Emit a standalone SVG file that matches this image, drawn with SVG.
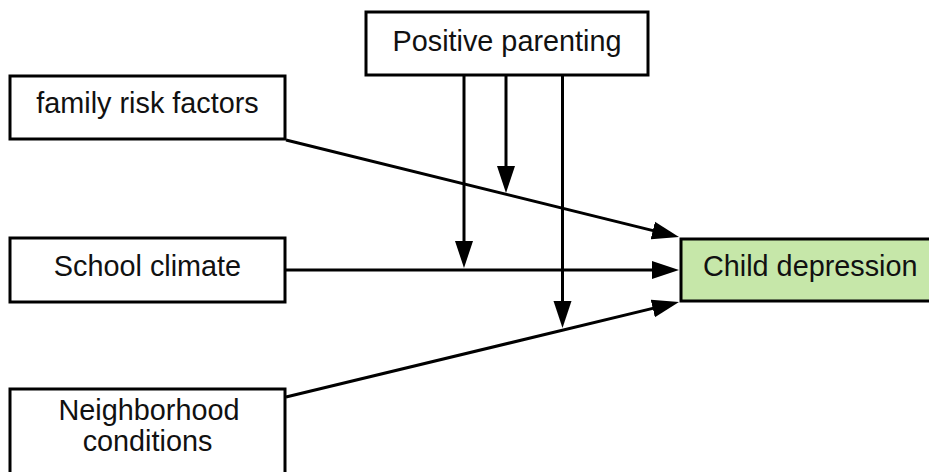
<svg xmlns="http://www.w3.org/2000/svg" width="929" height="472" viewBox="0 0 929 472">
  <style>
    .box { fill: #ffffff; stroke: #000000; stroke-width: 3; }
    .out { fill: #c6e7a9; stroke: #000000; stroke-width: 3; }
    .lbl { font-family: "Liberation Sans", Arial, sans-serif; font-size: 28.8px; fill: #111111; }
    .edge { fill: none; stroke: #000000; stroke-width: 3; }
  </style>
  <defs>
    <marker id="arr" markerUnits="userSpaceOnUse" markerWidth="27" markerHeight="20" refX="17" refY="10" orient="auto">
      <path d="M0,1 L27,10 L0,19 Z" fill="#000000"/>
    </marker>
  </defs>
  <rect width="929" height="472" fill="#ffffff"/>

  <g id="connectors">
    <path class="edge" d="M286,140 L669.3,234.6" marker-end="url(#arr)"/>
    <path class="edge" d="M286,270 L669,270" marker-end="url(#arr)"/>
    <path class="edge" d="M286,397 L669.3,304.4" marker-end="url(#arr)"/>
    <path class="edge" d="M464,76 L464,258" marker-end="url(#arr)"/>
    <path class="edge" d="M506,76 L506,183" marker-end="url(#arr)"/>
    <path class="edge" d="M562.5,76 L562.5,318" marker-end="url(#arr)"/>
  </g>

  <g id="positive-parenting">
    <rect class="box" x="366" y="12" width="282" height="63"/>
    <text class="lbl" x="507" y="51" text-anchor="middle">Positive parenting</text>
  </g>
  <g id="family-risk-factors">
    <rect class="box" x="10" y="76" width="275" height="63"/>
    <text class="lbl" x="147.5" y="113" text-anchor="middle">family risk factors</text>
  </g>
  <g id="school-climate">
    <rect class="box" x="10" y="238" width="275" height="64"/>
    <text class="lbl" x="147.5" y="276" text-anchor="middle">School climate</text>
  </g>
  <g id="neighborhood-conditions">
    <rect class="box" x="10" y="389" width="275" height="100"/>
    <text class="lbl" x="149" y="420" text-anchor="middle">Neighborhood</text>
    <text class="lbl" x="147.5" y="451" text-anchor="middle">conditions</text>
  </g>
  <g id="child-depression">
    <rect class="out" x="681" y="239" width="260" height="62"/>
    <text class="lbl" x="703" y="276">Child depression</text>
  </g>
</svg>
